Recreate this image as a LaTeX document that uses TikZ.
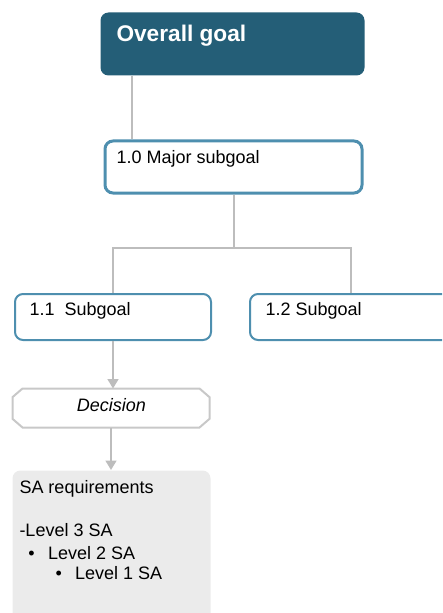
\documentclass[tikz,border=0pt]{standalone}
\usepackage{fontspec}
\setmainfont{Liberation Sans}
\usetikzlibrary{arrows.meta}

\definecolor{goalteal}{HTML}{245E77}
\definecolor{boxteal}{HTML}{4E8FAF}
\definecolor{linkgray}{HTML}{BDBDBD}
\definecolor{decgray}{HTML}{C8C8C8}
\definecolor{safill}{HTML}{EBEBEB}

\tikzset{every picture/.style={line width=0.75pt}}
\tikzset{
  subbox/.style={draw=boxteal, fill=white, rounded corners=6pt, anchor=north west, inner sep=0pt},
  link/.style={draw=linkgray, line width=1.5pt},
  linkarrow/.style={link, -{Triangle[width=8pt,length=7pt]}},
  txt/.style={anchor=base west, inner sep=0.75pt, font=\fontsize{13.5}{16}\selectfont}
}

\begin{document}
\begin{tikzpicture}[x=0.75pt,y=0.75pt,yscale=-1,xscale=1]
		\useasboundingbox (0,0) rectangle (442,613);
		\clip (0,0) rectangle (442,613);

		%Rounded Rect
		\node (goal) [fill=goalteal, rounded corners=6pt, anchor=north west, inner sep=0pt, minimum width=198pt, minimum height=47.25pt] at (100,12) {};
		%Rounded Rect
		\node (major) [subbox, line width=2.25pt, minimum width=192.75pt, minimum height=39pt] at (103.5,139.5) {};
		%Rounded Rect
		\node (sub11) [subbox, line width=1.5pt, minimum width=147pt, minimum height=34.5pt] at (14,293) {};
		%Rounded Rect
		\node (sub12) [subbox, line width=1.5pt, minimum width=151.5pt, minimum height=34.5pt] at (249,293) {};
		%Shape: Octagon
		\node (dec) [inner sep=0pt, minimum width=147pt, minimum height=28.5pt] at (111,408) {};
		\draw [draw=decgray, line width=1.5pt] ([xshift=7.5pt]dec.north west) -- ([xshift=-7.5pt]dec.north east) -- ([yshift=6.5pt]dec.north east) -- ([yshift=-6.5pt]dec.south east) -- ([xshift=-7.5pt]dec.south east) -- ([xshift=7.5pt]dec.south west) -- ([yshift=-6.5pt]dec.south west) -- ([yshift=6.5pt]dec.north west) -- cycle ;
		%Rounded Rect
		\node (sa) [fill=safill, rounded corners=6pt, anchor=north west, inner sep=0pt, minimum width=148.5pt, minimum height=120pt] at (12,470) {};

		%Straight Lines
		\draw [link] ([xshift=24pt]goal.south west) -- ([xshift=24pt]goal.south west |- major.north) ;
		%Shape: Polyline
		\draw [link] (major.south) -- ++(0,53.5) coordinate (fork) ;
		\draw [link] (sub11.north) |- (fork) -| (sub12.north) ;
		%Straight Lines
		\draw [linkarrow] (sub11.south) -- (sub11.south |- dec.north) ;
		%Straight Lines
		\draw [linkarrow] (dec.south) -- (dec.south |- sa.north) ;

		% Text Node
		\node (goaltxt) [anchor=base west, inner sep=0.75pt, text=white, font=\fontsize{17}{20}\selectfont\bfseries] at (115,42) {Overall goal};
		% Text Node
		\node (majortxt) [txt] at (115,163) {1.0 Major subgoal};
		% Text Node
		\node (sub11txt) [txt] at (28,315) {1.1~ Subgoal};
		% Text Node
		\node (sub12txt) [txt] at (264,315) {1.2 Subgoal};
		% Text Node
		\node (dectxt) [txt, anchor=base, font=\fontsize{13.5}{16}\selectfont\itshape] at (111.5,411.5) {Decision};
		% Text Node
		\node (satxt) [txt] at (18,493) {SA requirements};
		% Text Node
		\node (lvlthree) [txt] at (18,536) {-Level 3 SA};
		% Text Node
		\node (lvltwo) [txt] at (27,559) {\textbullet\hspace{10pt}Level 2 SA};
		% Text Node
		\node (lvlone) [txt] at (54,579) {\textbullet\hspace{10pt}Level 1 SA};

\end{tikzpicture}
\end{document}
